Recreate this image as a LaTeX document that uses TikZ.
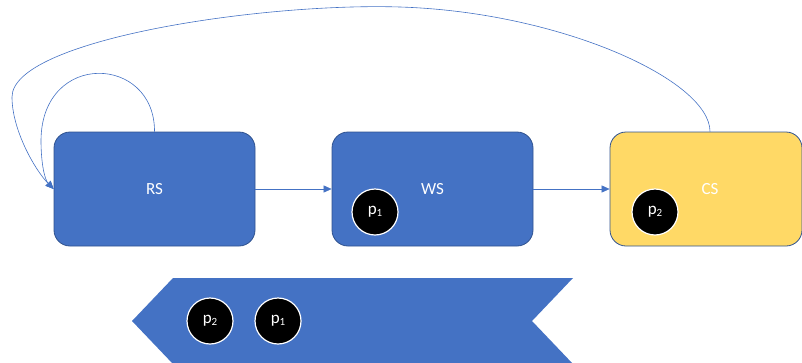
\documentclass[tikz,border=0pt]{standalone}
\usepackage{fontspec}
\setmainfont{Carlito}
\usetikzlibrary{arrows.meta,calc}
\definecolor{boxblue}{HTML}{4472C4}
\definecolor{boxedge}{HTML}{2F528F}
\definecolor{gold}{HTML}{FFD966}
\definecolor{lineblue}{HTML}{4472C4}
\newcommand{\tok}[1]{p\raisebox{-1.5pt}{\fontsize{11}{11}\selectfont #1}}
\begin{document}
\begin{tikzpicture}[x=1pt,y=-1pt,
 statebox/.style={draw=boxedge, line width=0.8pt, fill=boxblue, rounded corners=16pt,
   minimum width=201pt, minimum height=114pt, text=white,
   font=\fontsize{17}{20}\selectfont, inner sep=0pt},
 token/.style={circle, fill=black, draw=white, line width=1.2pt, minimum size=46pt,
   inner sep=0pt, text=white, font=\fontsize{17}{20}\selectfont},
 conn/.style={draw=lineblue, line width=0.6pt, -{Triangle[length=8pt,width=7pt]}}]
\useasboundingbox (0,0) rectangle (802,362);
\clip (0,0) rectangle (802,362);

% state boxes
\node[statebox] (RS) at (154.5,189) {RS};
\node[statebox] (WS) at (432.5,189) {WS};
\node[statebox, fill=gold, minimum width=192pt] (CS) at (706,189) {\hspace*{8pt}CS};

% connectors
\draw[conn] (RS.east) -- (WS.west);
\draw[conn] (WS.east) -- (CS.west);
\draw[conn] (RS.north) .. controls (155,55) and (42,50) .. (41,140)
   .. controls (41,165) and (45,180) .. (RS.west);
\draw[conn] ($(CS.north)+(4,0)$) .. controls (710,80) and (560,12) .. (400,7)
   .. controls (260,2.6) and (12,40) .. (12,97)
   .. controls (12,130) and (35,170) .. (RS.west);

% tokens in boxes
\node[token] (w1) at (375,212) {\tok{1}};
\node[token] (c2) at (655,212) {\tok{2}};

% queue arrow
\fill[boxblue] (173,278) -- (573,278) -- (532,321) -- (573,364) -- (173,364) -- (132,321) -- cycle;
\node[token] (q2) at (210,321) {\tok{2}};
\node[token] (q1) at (278,321) {\tok{1}};
\end{tikzpicture}
\end{document}
